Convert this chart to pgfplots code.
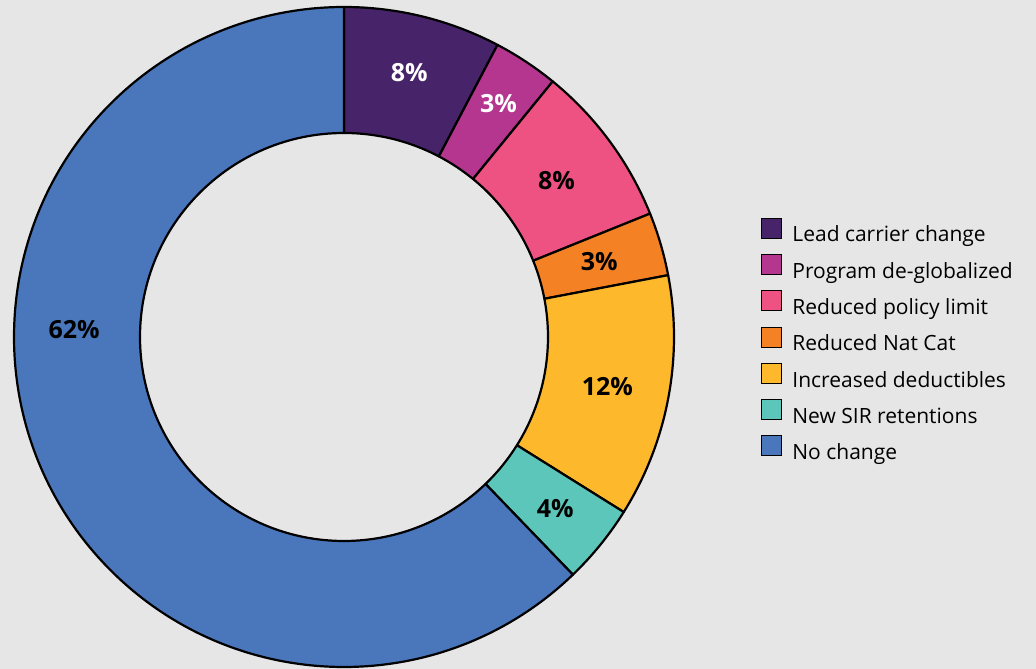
\documentclass[border=0pt]{standalone}
\usepackage{pgfplots}
\pgfplotsset{compat=1.18}
\usepackage{pgfplotstable}
\usepackage{fontspec}
\setmainfont{Open Sans}

\definecolor{bg}{HTML}{E6E6E6}
\definecolor{c0}{HTML}{47246A}
\definecolor{c1}{HTML}{B5368F}
\definecolor{c2}{HTML}{EE5282}
\definecolor{c3}{HTML}{F48224}
\definecolor{c4}{HTML}{FDB82B}
\definecolor{c5}{HTML}{5DC6BB}
\definecolor{c6}{HTML}{4A77BC}

% shares in percent, clockwise from 12 o'clock; lr = label radius
\pgfplotstableread[col sep=comma]{
label,value,textc,lr
Lead carrier change,7.7,white,272
Program de-globalized,3.2,white,280
Reduced policy limit,8.0,black,264
Reduced Nat Cat,3.1,black,266
Increased deductibles,11.9,black,268
New SIR retentions,3.9,black,272
No change,62.2,black,270
}\slices

\begin{document}
\begin{tikzpicture}
% start/end/mid angles of each slice
\def\cum{0}%
\pgfplotsforeachungrouped \i in {0,...,6}{%
  \pgfplotstablegetelem{\i}{value}\of\slices
  \let\v\pgfplotsretval
  \pgfmathsetmacro\aS{90-3.6*\cum}%
  \pgfmathsetmacro\cum{\cum+\v}%
  \pgfmathsetmacro\aE{90-3.6*\cum}%
  \pgfmathsetmacro\aM{(\aS+\aE)/2}%
  \expandafter\xdef\csname aS\i\endcsname{\aS}%
  \expandafter\xdef\csname aE\i\endcsname{\aE}%
  \expandafter\xdef\csname aM\i\endcsname{\aM}%
  \expandafter\xdef\csname pv\i\endcsname{\v}%
  \pgfplotstablegetelem{\i}{textc}\of\slices
  \expandafter\xdef\csname tc\i\endcsname{\pgfplotsretval}%
  \pgfplotstablegetelem{\i}{lr}\of\slices
  \expandafter\xdef\csname lr\i\endcsname{\pgfplotsretval}%
  \pgfplotstablegetelem{\i}{label}\of\slices
  \expandafter\xdef\csname lb\i\endcsname{\pgfplotsretval}%
}%
\expandafter\xdef\csname aM6\endcsname{178.5}%
\begin{axis}[
  scale only axis,
  width=1036pt, height=669pt,
  xmin=0, xmax=1036, ymin=0, ymax=669,
  hide axis,
  clip=false,
  legend image code/.code={\fill[#1] (0pt,-0.4pt) rectangle (20pt,19.6pt);},
  legend style={draw=none, fill=none, inner sep=0pt, outer sep=0pt,
    at={(axis cs:761,451.3)}, anchor=north west,
    font=\fontsize{21}{21}\selectfont,
    row sep=6.5pt,
    nodes={inner sep=0pt, text height=14.5pt, text depth=5.5pt},
    /tikz/every odd column/.append style={column sep=11pt}},
  legend cell align=left,
]
\fill[bg] (axis cs:0,0) rectangle (axis cs:1036,669);
\pgfplotsinvokeforeach{0,...,6}{
  \filldraw[fill=c#1, draw=black, line width=2.2pt, line join=round]
    ([shift={(\csname aS#1\endcsname:330pt)}]axis cs:344,332)
    arc[start angle=\csname aS#1\endcsname, end angle=\csname aE#1\endcsname, radius=330pt]
    -- ([shift={(\csname aE#1\endcsname:204pt)}]axis cs:344,332)
    arc[start angle=\csname aE#1\endcsname, end angle=\csname aS#1\endcsname, radius=204pt]
    -- cycle;
  \node[text=\csname tc#1\endcsname, font=\bfseries\fontsize{25}{25}\selectfont]
    at ([shift={(\csname aM#1\endcsname:\csname lr#1\endcsname pt)}]axis cs:344,332)
    {\pgfmathprintnumber[fixed,precision=0,assume math mode=true]{\csname pv#1\endcsname}\%};
  \addlegendimage{fill=c#1}
  \addlegendentry{\csname lb#1\endcsname}
}
\end{axis}
\pgfresetboundingbox
\useasboundingbox (current axis.south west) rectangle (current axis.north east);
\end{tikzpicture}
\end{document}
